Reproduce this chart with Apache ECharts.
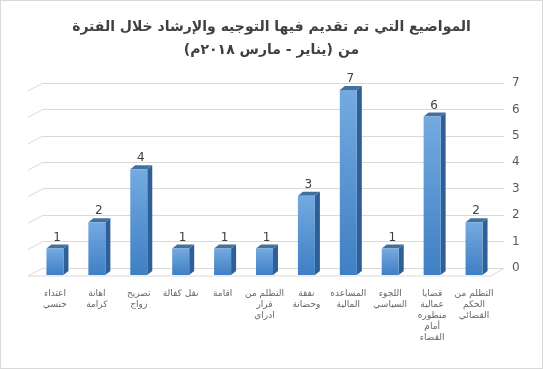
<!DOCTYPE html>
<html><head><meta charset="utf-8">
<script src="https://cdn.jsdelivr.net/npm/echarts@6/dist/echarts.min.js"></script>
<style>html,body{margin:0;padding:0;background:#fff}#c{width:543px;height:369px;box-sizing:border-box;border:1px solid #d9d9d9}</style>
</head><body><div id="c"></div>
<script>
const categories = ['اعتداء\nجنسي','اهانة\nكرامة','تصريح\nزواج','نقل كفالة','اقامة','التظلم من\nقرار\nادراي','نفقة\nوحضانة','المساعده\nالمالية','اللجوء\nالسياسي','قضايا\nعمالية\nمنظوره\nأمام\nالقضاء','التظلم من\nالحكم\nالقضائي'];
const values = [1,2,4,1,1,1,3,7,1,6,2];
const yTicks = [0,1,2,3,4,5,6,7];
const titleText = 'المواضيع التي تم تقديم فيها التوجيه والإرشاد خلال الفترة\nمن (يناير - مارس ٢٠١٨م)';

const chart = echarts.init(document.getElementById('c'));
const FONT = 'DejaVu Sans';
chart.setOption({
  animation:false,
  title:{text:titleText,left:'center',top:10,textStyle:{fontFamily:FONT,fontSize:14,fontWeight:'bold',color:'#404040',lineHeight:23,align:'center'}},
  grid:[
    {left:42,right:38,top:82,bottom:100},
    {left:33,right:47,top:89,bottom:93}
  ],
  xAxis:[
    {gridIndex:0,type:'value',min:0,max:1,show:false},
    {gridIndex:1,type:'category',data:categories,axisLine:{show:false},axisTick:{show:false},
     axisLabel:{interval:0,margin:13,fontFamily:FONT,fontSize:9,lineHeight:11,color:'#666666',verticalAlign:'top'}}
  ],
  yAxis:[
    {gridIndex:0,type:'value',min:0,max:7,interval:1,position:'right',axisLine:{show:false},axisTick:{show:false},
     axisLabel:{margin:8,fontFamily:FONT,fontSize:12,color:'#595959'},splitLine:{lineStyle:{color:'#d9d9d9',width:1}}},
    {gridIndex:1,type:'value',min:0,max:7,interval:1,show:false,splitLine:{show:false}}
  ],
  series:[
    {type:'custom',xAxisIndex:0,yAxisIndex:0,data:yTicks.map(v=>[0,v]),silent:true,z:1,
     renderItem:function(params,api){
       const p=api.coord([0,api.value(1)]);
       const children=[{type:'line',shape:{x1:p[0]-15,y1:p[1]+8,x2:p[0],y2:p[1]},style:{stroke:'#d9d9d9',lineWidth:1}}];
       if(api.value(1)===0){
         const q=api.coord([1,0]);
         children.push({type:'line',shape:{x1:p[0]-15,y1:p[1]+8,x2:q[0]-13,y2:q[1]+8},style:{stroke:'#d9d9d9',lineWidth:1}});
         children.push({type:'line',shape:{x1:q[0]-13,y1:q[1]+8,x2:q[0],y2:q[1]},style:{stroke:'#d9d9d9',lineWidth:1}});
       }
       return {type:'group',children:children};
     }},
    {type:'custom',xAxisIndex:1,yAxisIndex:1,data:values.map((v,i)=>[i,v]),z:3,
     renderItem:function(params,api){
       const top=api.coord([api.value(0),api.value(1)]);
       const bot=api.coord([api.value(0),0]);
       const w=17,dx=5,dy=4;
       const x1=top[0]-w/2,x2=top[0]+w/2,yt=top[1],yb=bot[1];
       return {type:'group',children:[
         {type:'polygon',shape:{points:[[x2,yt],[x2+dx,yt-dy],[x2+dx,yb-dy],[x2,yb]]},style:{fill:'#2f5f97'}},
         {type:'polygon',shape:{points:[[x1,yt],[x1+dx,yt-dy],[x2+dx,yt-dy],[x2,yt]]},style:{fill:'#41719f'}},
         {type:'rect',shape:{x:x1,y:yt,width:w,height:yb-yt},style:{fill:new echarts.graphic.LinearGradient(0,0,0,1,[{offset:0,color:'#74aae0'},{offset:1,color:'#3f7fc4'}])}},
         {type:'text',style:{text:String(api.value(1)),x:top[0]+2,y:yt-11,align:'center',verticalAlign:'middle',font:'12px "DejaVu Sans"',fill:'#404040'}}
       ]};
     }}
  ]
});
</script></body></html>
